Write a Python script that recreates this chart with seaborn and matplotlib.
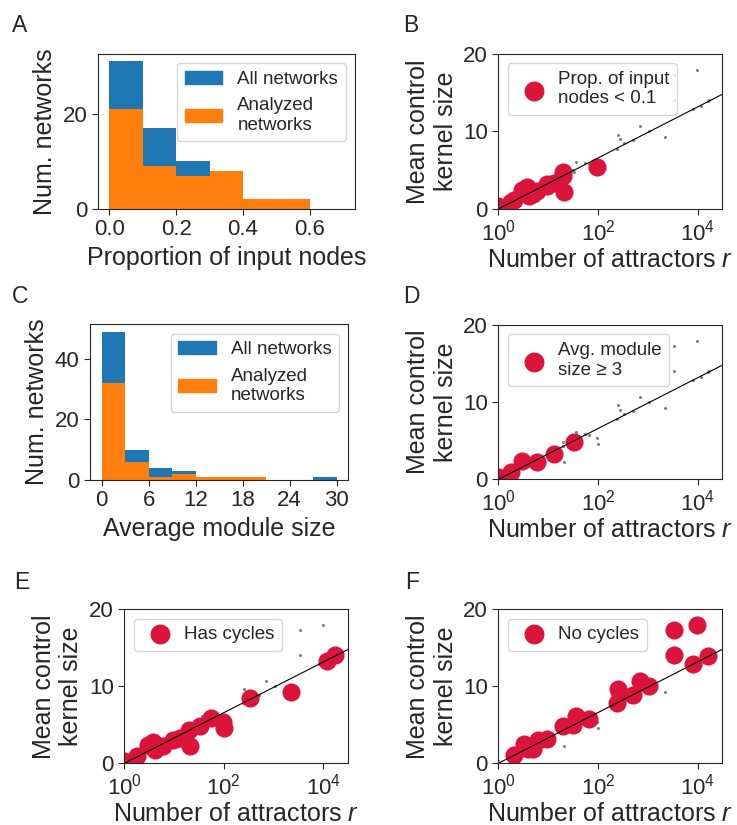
import pandas as pd
import seaborn as sns
import matplotlib.pyplot as plt
from matplotlib.patches import Patch

# histogram counts per bin
input_edges = [0.0, 0.1, 0.2, 0.3, 0.4, 0.5, 0.6, 0.7]
input_all = [31, 17, 10, 8, 2, 2, 0]
input_analyzed = [21, 9, 7, 8, 2, 2, 0]

module_edges = [0, 3, 6, 9, 12, 15, 18, 21, 24, 27, 30]
module_all = [49, 10, 4, 3, 1, 1, 1, 0, 0, 1]
module_analyzed = [32, 6, 1, 2, 1, 1, 1, 0, 0, 0]

# analyzed networks: number of attractors vs mean control kernel size
attractors = [1, 1.8, 2.1, 3.0, 3.2, 3.8, 4.1, 4.0, 5.0, 6.0, 6.3, 9.5, 9.4, 13,
              20, 20, 21, 33, 32, 37, 56, 65, 96, 100, 247, 257, 282, 330, 510,
              700, 1050, 2240, 3300, 9700, 3400, 8100, 11700, 16600, 17400]
kernel = [0.35, 0.9, 1.1, 2.4, 2.5, 2.8, 1.7, 1.8, 1.9, 2.3, 3.0, 3.0, 3.2, 3.3,
          4.3, 4.8, 2.2, 4.8, 5.0, 6.1, 5.9, 5.8, 5.4, 4.6, 7.8, 9.6, 9.0, 8.5, 8.9,
          10.7, 10.0, 9.3, 17.3, 17.9, 14.0, 12.9, 13.3, 13.9, 14.1]
has_cycles = [1, 1, 0, 1, 0, 1, 1, 0, 0, 1, 0, 1, 0, 1,
              1, 0, 1, 1, 0, 0, 1, 0, 1, 1, 0, 0, 0, 1, 0,
              0, 0, 1, 0, 0, 0, 0, 1, 0, 1]
low_input = [1, 1, 1, 1, 0, 1, 1, 1, 1, 1, 0, 1, 1, 1,
             1, 1, 1, 0, 0, 0, 0, 0, 1, 0, 0, 0, 0, 0, 0,
             0, 0, 0, 0, 0, 0, 0, 0, 0, 0]
big_module = [1, 1, 0, 1, 0, 0, 0, 0, 0, 1, 0, 0, 0, 1,
              0, 0, 0, 1, 0, 0, 0, 0, 0, 0, 0, 0, 0, 0, 0,
              0, 0, 0, 0, 0, 0, 0, 0, 0, 0]

fit_slope = 3.29  # kernel size per decade of r
fit_r = [1, 10 ** 4.5]

BLUE = "#1f77b4"
ORANGE = "#ff7f0e"
RED = "#dc143c"

df = pd.DataFrame({"r": attractors, "kernel": kernel,
                   "cycles": has_cycles, "low_input": low_input,
                   "big_module": big_module})

sns.set_style("ticks")
plt.rcParams["font.family"] = ["Liberation Sans", "DejaVu Sans"]
plt.rcParams["mathtext.fontset"] = "custom"
plt.rcParams["mathtext.rm"] = "Liberation Sans"
plt.rcParams["mathtext.it"] = "Liberation Sans:italic"
plt.rcParams["xtick.major.size"] = 4
plt.rcParams["ytick.major.size"] = 4

TICK = 16
LABEL = 18
LEG = 13.5


def hist_panel(ax, edges, all_counts, analyzed_counts, xlabel, xticks, yticks):
    left = edges[:-1]
    sns.histplot(x=left, weights=all_counts, bins=edges, color=BLUE,
                 alpha=1, linewidth=0, ax=ax)
    sns.histplot(x=left, weights=analyzed_counts, bins=edges, color=ORANGE,
                 alpha=1, linewidth=0, ax=ax)
    ax.set_xticks(xticks)
    ax.set_yticks(yticks)
    ax.tick_params(labelsize=TICK)
    ax.set_xlabel(xlabel, fontsize=LABEL)
    ax.set_ylabel("Num. networks", fontsize=LABEL)
    handles = [Patch(color=BLUE, label="All networks"),
               Patch(color=ORANGE, label="Analyzed\nnetworks")]
    ax.legend(handles=handles, loc="upper right", fontsize=LEG)


def scatter_panel(ax, col, value, label):
    sub = df[df[col] == value]
    fit_y = [fit_slope * 0, fit_slope * 4.5]
    sns.scatterplot(data=df, x="r", y="kernel", color="grey", s=5,
                    linewidth=0, ax=ax)
    sns.lineplot(x=fit_r, y=fit_y, color="black", linewidth=0.8, ax=ax)
    sns.scatterplot(data=sub, x="r", y="kernel", color=RED, s=170,
                    linewidth=0, ax=ax)
    ax.set_xscale("log")
    ax.set_xlim(1, 10 ** 4.5)
    ax.set_ylim(0, 20)
    ax.set_xticks([1, 100, 10000])
    ax.minorticks_off()
    ax.set_yticks([0, 10, 20])
    ax.tick_params(labelsize=TICK)
    ax.set_xlabel("Number of attractors $r$", fontsize=LABEL, labelpad=2)
    ax.set_ylabel("Mean control\nkernel size", fontsize=LABEL)
    ax.legend([ax.collections[-1]], [label], loc="upper left", fontsize=LEG,
              handletextpad=0.3, markerscale=1.1)


fig = plt.figure(figsize=(7.37, 8.25), dpi=100)

axA = fig.add_axes([0.1326, 0.7467, 0.349, 0.1879])
axB = fig.add_axes([0.6762, 0.7467, 0.304, 0.1879])
axC = fig.add_axes([0.1221, 0.4182, 0.3505, 0.1887])
axD = fig.add_axes([0.6762, 0.4190, 0.304, 0.1870])
axE = fig.add_axes([0.1687, 0.0748, 0.304, 0.1867])
axF = fig.add_axes([0.6762, 0.0748, 0.304, 0.1867])

hist_panel(axA, input_edges, input_all, input_analyzed,
           "Proportion of input nodes", [0.0, 0.2, 0.4, 0.6], [0, 20])
hist_panel(axC, module_edges, module_all, module_analyzed,
           "Average module size", [0, 6, 12, 18, 24, 30], [0, 20, 40])

scatter_panel(axB, "low_input", 1, "Prop. of input\nnodes < 0.1")
scatter_panel(axD, "big_module", 1, "Avg. module\nsize ≥ 3")
scatter_panel(axE, "cycles", 1, "Has cycles")
scatter_panel(axF, "cycles", 0, "No cycles")

for letter, x, y in [("A", 12, 14), ("B", 403, 14), ("C", 12, 285),
                     ("D", 403, 285), ("E", 14, 571), ("F", 405, 571)]:
    fig.text(x / 737, 1 - y / 825, letter, fontsize=16.5, ha="left", va="top")

fig.savefig("out.png", dpi=100)
